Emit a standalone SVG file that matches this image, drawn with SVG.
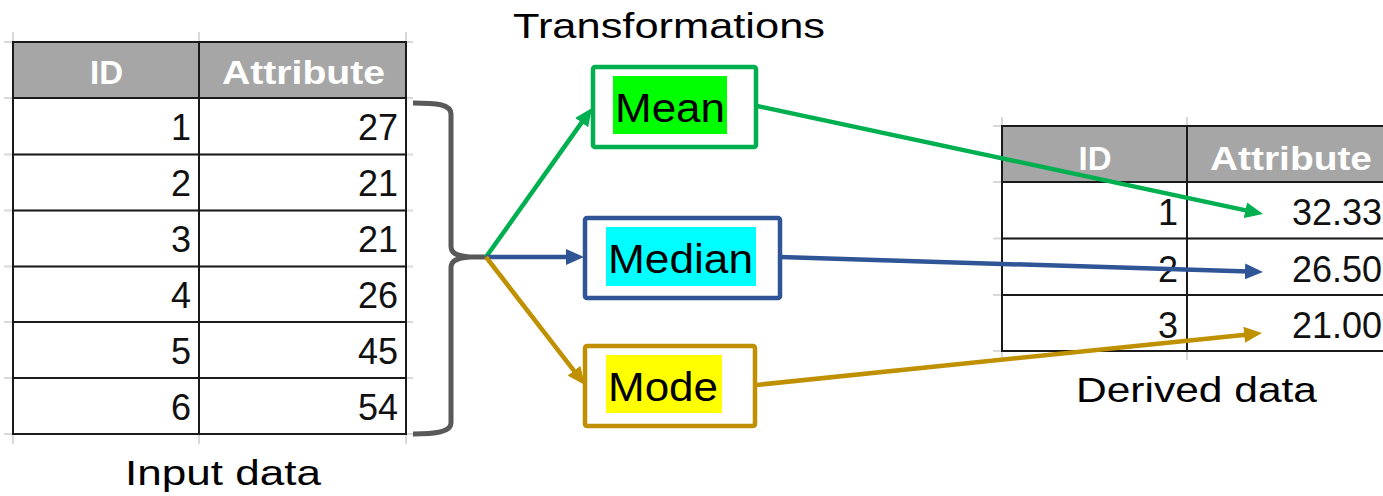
<svg xmlns="http://www.w3.org/2000/svg" width="1383" height="496" viewBox="0 0 1383 496">
  <style>
    .grid { stroke: #d9d9d9; stroke-width: 2; fill: none; }
    .head { fill: #a6a6a6; }
    .border { stroke: #1a1a1a; stroke-width: 2; fill: none; }
    .cell { font-family: "Liberation Sans", Arial, sans-serif; font-size: 36px; fill: #111; }
    .hdr { font-family: "Liberation Sans", Arial, sans-serif; font-size: 33px; font-weight: bold; fill: #ffffff; }
    .label { font-family: "Liberation Sans", Arial, sans-serif; font-size: 35px; fill: #000; }
    .box { fill: #ffffff; stroke-width: 4.5; }
    .boxtext { font-family: "Liberation Sans", Arial, sans-serif; font-size: 40px; fill: #000; }
    .conn { fill: none; stroke-width: 4.5; }
  </style>
  <defs>
    <marker id="ah-green" markerUnits="userSpaceOnUse" markerWidth="18" markerHeight="16" refX="4" refY="8" orient="auto">
      <path d="M0,0 L18,8 L0,16 Z" fill="#00b050"/>
    </marker>
    <marker id="ah-blue" markerUnits="userSpaceOnUse" markerWidth="18" markerHeight="16" refX="4" refY="8" orient="auto">
      <path d="M0,0 L18,8 L0,16 Z" fill="#2f5597"/>
    </marker>
    <marker id="ah-gold" markerUnits="userSpaceOnUse" markerWidth="18" markerHeight="16" refX="4" refY="8" orient="auto">
      <path d="M0,0 L18,8 L0,16 Z" fill="#bf9000"/>
    </marker>
  </defs>

  <rect width="1383" height="496" fill="#ffffff"/>

  <!-- Input data table -->
  <g id="input-table">
    <g class="grid">
      <line x1="4" y1="42" x2="413" y2="42"/>
      <line x1="4" y1="98" x2="413" y2="98"/>
      <line x1="4" y1="154.5" x2="413" y2="154.5"/>
      <line x1="4" y1="210.5" x2="413" y2="210.5"/>
      <line x1="4" y1="266.5" x2="413" y2="266.5"/>
      <line x1="4" y1="322" x2="413" y2="322"/>
      <line x1="4" y1="378" x2="413" y2="378"/>
      <line x1="4" y1="434" x2="413" y2="434"/>
      <line x1="13" y1="32" x2="13" y2="444"/>
      <line x1="199" y1="32" x2="199" y2="444"/>
      <line x1="406" y1="32" x2="406" y2="444"/>
    </g>
    <rect class="head" x="13" y="42" width="393" height="56"/>
    <g class="border">
      <rect x="13" y="42" width="393" height="392"/>
      <line x1="13" y1="98" x2="406" y2="98"/>
      <line x1="13" y1="154.5" x2="406" y2="154.5"/>
      <line x1="13" y1="210.5" x2="406" y2="210.5"/>
      <line x1="13" y1="266.5" x2="406" y2="266.5"/>
      <line x1="13" y1="322" x2="406" y2="322"/>
      <line x1="13" y1="378" x2="406" y2="378"/>
      <line x1="199" y1="42" x2="199" y2="434"/>
    </g>
    <text class="hdr" x="106.5" y="84" text-anchor="middle">ID</text>
    <text class="hdr" x="222" y="84" textLength="163" lengthAdjust="spacingAndGlyphs">Attribute</text>
    <g class="cell" text-anchor="end">
      <text x="191" y="140">1</text><text x="398" y="140">27</text>
      <text x="191" y="196">2</text><text x="398" y="196">21</text>
      <text x="191" y="252">3</text><text x="398" y="252">21</text>
      <text x="191" y="308">4</text><text x="398" y="308">26</text>
      <text x="191" y="364">5</text><text x="398" y="364">45</text>
      <text x="191" y="420">6</text><text x="398" y="420">54</text>
    </g>
    <text class="label" x="125" y="485" textLength="196" lengthAdjust="spacingAndGlyphs">Input data</text>
  </g>

  <!-- Brace gathering all input rows -->
  <g id="brace">
    <path d="M413,103 C436,103 451,104 451,114 L451,246 C451,253 456,256 470,257 L486,257 M470,257 C456,258 451,261 451,268 L451,423 C451,432 436,434 413,434" fill="none" stroke="#595959" stroke-width="5"/>
  </g>

  <text id="title-transformations" class="label" x="513" y="38" textLength="312" lengthAdjust="spacingAndGlyphs">Transformations</text>

  <!-- Transformation nodes -->
  <g id="node-mean">
    <rect class="box" x="593" y="67" width="163" height="80" rx="2" stroke="#00b050"/>
    <rect x="613" y="76" width="114" height="58" fill="#00ff00"/>
    <text class="boxtext" x="615" y="122" textLength="110" lengthAdjust="spacingAndGlyphs">Mean</text>
  </g>
  <g id="node-median">
    <rect class="box" x="585" y="218" width="195" height="80" rx="2" stroke="#2f5597"/>
    <rect x="606" y="227" width="150" height="59" fill="#00ffff"/>
    <text class="boxtext" x="608" y="273" textLength="145" lengthAdjust="spacingAndGlyphs">Median</text>
  </g>
  <g id="node-mode">
    <rect class="box" x="585" y="346" width="170" height="80" rx="2" stroke="#bf9000"/>
    <rect x="606" y="355" width="116" height="58" fill="#ffff00"/>
    <text class="boxtext" x="608" y="401" textLength="110" lengthAdjust="spacingAndGlyphs">Mode</text>
  </g>

  <!-- Derived data table -->
  <g id="derived-table">
    <g class="grid">
      <line x1="993" y1="126" x2="1383" y2="126"/>
      <line x1="993" y1="182" x2="1383" y2="182"/>
      <line x1="993" y1="238.5" x2="1383" y2="238.5"/>
      <line x1="993" y1="295" x2="1383" y2="295"/>
      <line x1="993" y1="351" x2="1383" y2="351"/>
      <line x1="1002" y1="117" x2="1002" y2="360"/>
      <line x1="1187" y1="117" x2="1187" y2="360"/>
    </g>
    <rect class="head" x="1002" y="126" width="392" height="56"/>
    <g class="border">
      <rect x="1002" y="126" width="392" height="225"/>
      <line x1="1002" y1="182" x2="1394" y2="182"/>
      <line x1="1002" y1="238.5" x2="1394" y2="238.5"/>
      <line x1="1002" y1="295" x2="1394" y2="295"/>
      <line x1="1187" y1="126" x2="1187" y2="351"/>
    </g>
    <text class="hdr" x="1095" y="170" text-anchor="middle">ID</text>
    <text class="hdr" x="1210" y="170" textLength="162" lengthAdjust="spacingAndGlyphs">Attribute</text>
    <g class="cell">
      <text x="1178" y="225" text-anchor="end">1</text><text x="1292" y="225">32.33</text>
      <text x="1178" y="282" text-anchor="end">2</text><text x="1292" y="282">26.50</text>
      <text x="1178" y="338" text-anchor="end">3</text><text x="1292" y="338">21.00</text>
    </g>
    <text class="label" x="1076" y="402" textLength="241" lengthAdjust="spacingAndGlyphs">Derived data</text>
  </g>

  <!-- Connectors -->
  <g id="connectors">
    <line class="conn" x1="486" y1="257" x2="583.9" y2="119.4" stroke="#00b050" marker-end="url(#ah-green)"/>
    <line class="conn" x1="486" y1="257" x2="570" y2="257" stroke="#2f5597" marker-end="url(#ah-blue)"/>
    <line class="conn" x1="486" y1="257" x2="576.4" y2="373.9" stroke="#bf9000" marker-end="url(#ah-gold)"/>
    <line class="conn" x1="757" y1="106" x2="1249.3" y2="211.1" stroke="#00b050" marker-end="url(#ah-green)"/>
    <line class="conn" x1="780" y1="257" x2="1249" y2="271.6" stroke="#2f5597" marker-end="url(#ah-blue)"/>
    <line class="conn" x1="756" y1="385" x2="1248.1" y2="334.4" stroke="#bf9000" marker-end="url(#ah-gold)"/>
  </g>
</svg>
